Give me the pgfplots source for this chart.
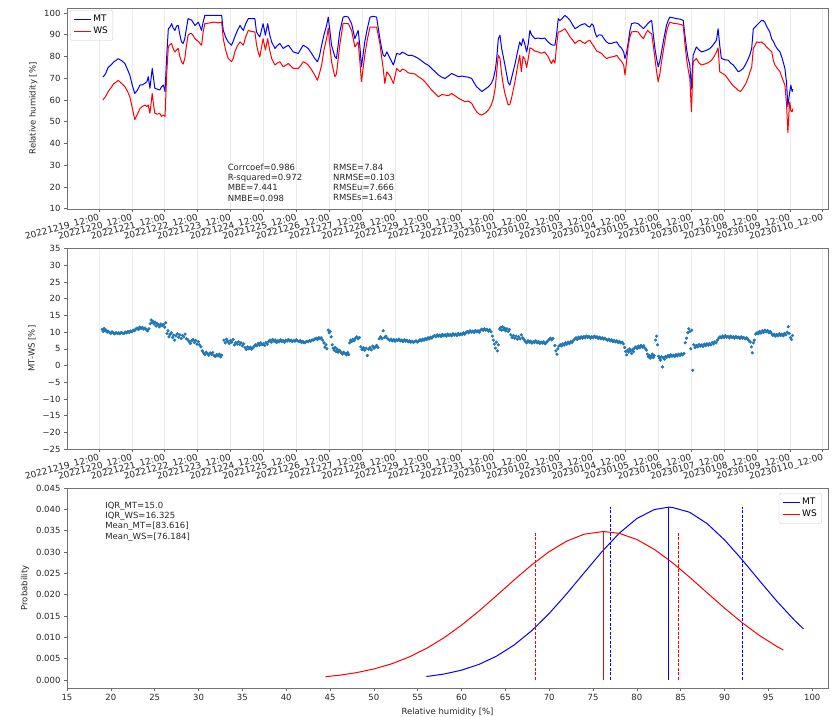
\documentclass[border=0pt]{standalone}
\usepackage{fontspec}
\setmainfont{DejaVu Sans}
\usepackage{pgfplots}
\usepackage{pgfplotstable}
\pgfplotsset{compat=1.18}
\definecolor{mplblue}{HTML}{1F77B4}

% relative humidity of the two sensors, time in days from 2022-12-19 12:00
\pgfplotstableread{
t mt ws
0.12 70.5 60.0
0.20 72.0 61.5
0.28 75.0 63.9
0.36 76.0 65.5
0.45 77.5 67.5
0.59 79.0 69.0
0.70 78.0 67.5
0.79 76.8 66.1
0.87 74.0 64.0
0.94 71.4 61.5
1.02 66.5 56.0
1.09 63.0 51.0
1.17 64.5 53.5
1.25 66.9 56.2
1.32 67.0 57.0
1.40 67.7 57.7
1.46 68.5 57.0
1.50 70.7 57.7
1.55 65.4 53.9
1.62 74.5 63.0
1.66 70.0 58.0
1.70 65.4 53.9
1.77 65.0 53.5
1.85 64.6 53.9
1.90 66.0 52.5
1.96 66.9 53.1
2.01 63.9 52.5
2.06 80.0 72.0
2.11 92.8 84.5
2.16 93.5 85.5
2.21 95.1 86.0
2.26 93.0 83.5
2.31 92.0 82.1
2.36 94.0 83.0
2.41 94.3 83.7
2.46 90.0 80.0
2.51 86.7 77.6
2.56 86.0 76.5
2.61 88.2 79.1
2.66 93.0 85.0
2.71 97.4 89.8
2.77 97.0 90.5
2.82 96.7 90.5
2.87 95.5 89.5
2.92 94.3 88.2
2.97 95.0 87.5
3.02 95.8 87.0
3.07 94.0 86.0
3.12 92.0 85.2
3.17 96.0 91.5
3.22 98.9 95.1
3.35 98.9 95.4
3.50 98.9 95.8
3.62 98.9 95.5
3.73 98.9 95.8
3.78 92.0 88.2
3.85 89.0 83.0
3.93 86.7 79.1
4.03 85.2 77.6
4.08 87.0 79.0
4.13 89.0 82.1
4.21 92.0 85.0
4.29 94.3 86.7
4.34 93.0 86.0
4.39 92.0 85.2
4.46 95.0 89.0
4.54 97.4 92.0
4.64 97.4 91.5
4.74 97.4 91.3
4.79 91.3 85.5
4.84 90.0 82.1
4.89 89.0 79.8
4.94 92.0 84.0
4.99 95.1 88.2
5.06 89.8 83.0
5.13 95.1 88.2
5.19 90.0 83.0
5.25 86.7 79.1
5.35 83.7 76.1
5.42 85.0 77.0
5.50 86.0 77.6
5.60 83.7 75.3
5.68 84.5 76.0
5.76 85.2 76.8
5.84 83.5 75.5
5.91 82.1 74.5
6.06 81.4 74.5
6.14 83.5 76.0
6.21 85.2 77.6
6.29 84.5 77.0
6.36 83.7 76.1
6.46 81.5 74.0
6.56 79.1 71.5
6.64 77.6 69.1
6.70 80.0 72.0
6.77 85.2 76.1
6.84 90.0 83.0
6.92 94.3 88.2
6.97 98.1 93.0
7.02 92.0 85.0
7.07 85.2 77.6
7.17 80.0 70.7
7.22 79.1 72.0
7.32 91.3 85.2
7.42 98.1 95.1
7.50 98.5 95.1
7.58 98.1 95.1
7.68 95.1 92.0
7.78 88.2 84.4
7.88 92.0 86.7
7.93 85.0 78.0
7.98 75.3 68.4
8.08 86.7 80.6
8.16 93.0 88.0
8.24 98.1 93.5
8.34 98.5 93.5
8.44 98.1 93.5
8.54 88.2 86.0
8.59 84.0 80.0
8.64 80.6 74.5
8.69 80.0 67.6
8.75 82.1 73.0
8.85 79.1 71.0
8.95 76.1 67.6
9.05 81.4 74.5
9.15 81.0 73.0
9.22 82.0 74.2
9.30 81.4 73.8
9.40 80.5 72.5
9.50 80.6 72.2
9.60 80.0 72.0
9.71 79.1 70.7
9.81 78.0 69.8
9.91 76.8 68.4
10.01 76.0 66.5
10.11 74.5 64.6
10.22 73.0 63.0
10.32 71.5 61.5
10.42 70.5 62.5
10.52 69.9 62.3
10.62 71.0 62.0
10.72 72.2 63.0
10.82 71.5 62.0
10.93 70.7 60.8
11.03 71.0 60.0
11.13 70.7 59.2
11.23 70.5 59.5
11.33 69.9 58.5
11.40 68.0 56.5
11.48 66.1 54.6
11.56 65.0 53.5
11.64 63.9 53.1
11.74 65.0 54.0
11.84 66.1 55.4
11.92 67.5 57.5
11.99 69.9 60.8
12.05 74.0 66.0
12.09 79.1 73.0
12.14 88.2 80.6
12.19 89.8 79.1
12.24 83.7 72.0
12.29 80.0 66.9
12.34 76.1 63.0
12.44 68.0 57.7
12.49 66.9 58.0
12.54 70.0 60.8
12.64 76.1 68.0
12.72 82.0 75.0
12.79 86.7 80.6
12.84 85.0 73.0
12.89 88.2 80.0
12.94 86.0 79.0
13.00 82.1 75.0
13.05 86.0 79.1
13.10 92.0 84.0
13.15 90.0 83.7
13.25 88.2 82.5
13.35 88.5 82.1
13.45 88.2 81.5
13.55 88.5 82.1
13.65 86.7 80.0
13.75 85.5 76.8
13.81 85.2 78.5
13.86 85.2 77.0
13.91 90.0 85.0
13.96 97.4 91.3
14.01 96.5 91.3
14.08 97.5 92.0
14.16 98.9 92.8
14.24 98.0 91.0
14.32 96.6 89.0
14.40 94.5 87.5
14.47 92.8 86.0
14.55 93.5 87.0
14.62 94.3 87.5
14.70 94.8 86.5
14.77 95.1 86.0
14.85 94.0 87.0
14.92 93.5 87.5
14.98 95.0 86.0
15.03 94.3 85.0
15.08 91.0 83.7
15.13 89.0 82.5
15.20 90.0 82.0
15.28 89.8 81.4
15.36 88.0 80.0
15.43 86.7 79.1
15.50 86.0 79.5
15.58 86.0 79.8
15.66 86.5 80.0
15.74 86.7 80.6
15.81 85.0 79.0
15.89 83.7 77.6
15.95 82.0 76.0
15.99 79.1 71.5
16.04 82.0 78.0
16.09 86.7 85.2
16.14 92.0 89.0
16.19 95.1 91.3
16.29 95.5 91.5
16.39 95.1 91.3
16.47 94.0 89.5
16.55 92.8 88.2
16.62 94.0 90.5
16.68 95.1 92.0
16.74 96.0 91.0
16.80 96.6 90.5
16.85 90.0 85.0
16.90 83.7 79.1
16.95 79.0 73.0
17.00 75.3 68.4
17.05 78.0 72.0
17.10 82.1 77.6
17.18 89.0 85.0
17.25 94.3 91.3
17.30 96.5 94.0
17.35 98.1 95.8
17.45 97.8 95.3
17.56 97.4 95.1
17.66 97.2 94.8
17.76 96.6 94.3
17.81 90.0 86.0
17.86 83.7 79.1
17.91 79.0 74.0
17.96 76.1 70.0
18.01 65.0 54.6
18.06 80.6 77.6
18.16 84.4 79.1
18.24 83.0 77.0
18.32 82.1 76.1
18.40 82.5 76.5
18.47 82.9 76.8
18.55 83.5 77.5
18.62 84.4 78.3
18.70 86.0 80.0
18.77 87.5 82.1
18.82 92.8 84.0
18.87 85.0 73.0
18.92 79.1 72.5
19.03 78.5 71.5
19.13 78.3 69.5
19.20 77.0 68.0
19.28 76.1 66.5
19.36 74.5 65.5
19.43 73.0 64.5
19.50 73.5 63.9
19.58 74.5 65.5
19.66 76.5 67.5
19.74 79.1 70.5
19.79 81.0 73.0
19.84 83.7 75.0
19.89 92.8 83.7
19.94 93.5 85.0
19.99 94.3 86.7
20.07 95.5 86.5
20.14 96.6 86.7
20.19 96.5 86.0
20.24 95.8 85.5
20.29 94.0 84.4
20.39 91.3 83.0
20.45 88.0 82.1
20.50 87.0 78.0
20.55 85.2 76.0
20.62 83.5 74.5
20.70 82.1 73.0
20.77 79.0 70.0
20.85 74.5 66.9
20.90 68.0 58.0
20.94 57.0 45.0
20.98 62.0 56.0
21.00 63.9 59.2
21.03 66.9 55.0
21.07 63.9 54.6
21.09 65.0 56.0
}\rhdata

% difference MT - WS
\pgfplotstableread{
t d
0.10 10.8
0.13 10.2
0.16 11.1
0.19 10.4
0.22 10.6
0.25 10.0
0.28 10.3
0.32 9.9
0.36 9.6
0.40 10.1
0.44 9.7
0.48 9.5
0.52 9.9
0.56 9.6
0.60 9.8
0.64 9.5
0.68 9.9
0.72 9.7
0.76 9.6
0.80 10.0
0.84 9.8
0.88 10.2
0.92 9.9
0.96 10.3
1.00 10.1
1.04 10.6
1.08 10.4
1.12 10.9
1.16 11.2
1.20 10.8
1.24 11.5
1.28 11.1
1.32 11.4
1.36 10.9
1.40 11.2
1.44 10.7
1.48 10.4
1.52 11.0
1.56 12.5
1.59 13.6
1.62 12.9
1.65 13.2
1.68 12.4
1.71 13.0
1.74 11.8
1.77 12.6
1.80 12.2
1.84 11.6
1.88 12.4
1.92 11.9
1.96 12.3
2.00 11.5
2.03 12.8
2.07 9.6
2.10 10.4
2.13 8.6
2.16 9.3
2.20 9.8
2.24 8.4
2.27 9.1
2.30 7.6
2.34 8.9
2.38 9.5
2.42 8.5
2.46 9.2
2.50 8.1
2.54 9.0
2.58 8.6
2.62 9.4
2.66 8.0
2.70 7.8
2.74 7.2
2.78 6.6
2.82 7.4
2.86 7.8
2.90 6.9
2.94 7.5
2.98 6.4
3.02 7.1
3.06 6.2
3.10 5.6
3.14 4.4
3.18 3.8
3.22 3.3
3.26 4.0
3.30 3.6
3.34 3.1
3.38 3.8
3.42 3.4
3.46 3.9
3.50 3.0
3.54 2.7
3.58 3.3
3.62 2.9
3.66 3.4
3.70 2.6
3.73 3.1
3.80 7.6
3.84 6.8
3.88 7.9
3.92 7.2
3.96 6.6
4.00 7.5
4.04 7.0
4.08 7.8
4.12 6.2
4.16 6.9
4.20 6.4
4.24 7.1
4.28 6.3
4.32 6.8
4.36 5.9
4.40 6.5
4.44 5.4
4.48 4.8
4.52 5.6
4.56 5.0
4.60 5.5
4.64 4.9
4.68 5.3
4.72 5.8
4.76 6.2
4.80 5.9
4.84 6.6
4.88 6.1
4.92 6.8
4.96 6.3
5.00 6.5
5.04 6.0
5.08 6.9
5.12 6.4
5.16 7.2
5.20 7.6
5.24 7.0
5.28 7.8
5.32 7.3
5.36 7.6
5.40 6.9
5.44 7.4
5.48 7.1
5.52 7.7
5.56 7.2
5.60 7.5
5.64 7.0
5.68 7.6
5.72 7.3
5.76 7.8
5.80 7.4
5.84 7.6
5.88 7.2
5.92 7.5
5.96 7.3
6.00 7.7
6.04 7.4
6.08 7.2
6.12 7.5
6.16 6.9
6.20 7.2
6.24 6.8
6.28 7.0
6.32 7.3
6.36 7.1
6.40 7.5
6.44 7.3
6.48 7.7
6.52 7.6
6.56 7.9
6.60 8.2
6.64 7.8
6.68 8.4
6.72 8.0
6.76 8.3
6.80 7.6
6.84 6.8
6.87 5.5
6.90 6.2
6.93 5.0
6.97 10.6
7.00 9.8
7.03 10.2
7.06 8.6
7.09 6.2
7.12 5.2
7.15 4.6
7.18 5.4
7.21 4.2
7.24 4.9
7.27 4.0
7.30 4.6
7.33 4.3
7.37 3.8
7.40 3.4
7.44 4.0
7.48 3.6
7.52 3.2
7.56 3.9
7.59 3.3
7.62 6.8
7.65 7.6
7.68 7.2
7.72 7.9
7.76 7.4
7.80 8.2
7.84 8.6
7.88 8.0
7.92 8.4
7.96 5.6
8.00 4.8
8.04 5.3
8.08 4.6
8.12 5.2
8.16 3.0
8.20 4.9
8.24 5.4
8.28 4.7
8.32 5.8
8.36 5.2
8.40 5.6
8.44 6.0
8.48 5.4
8.52 8.0
8.56 8.6
8.60 8.1
8.64 10.4
8.68 8.4
8.72 8.8
8.76 8.2
8.80 7.8
8.84 7.5
8.88 7.9
8.92 7.4
8.96 7.8
9.00 7.3
9.04 7.7
9.08 7.5
9.12 7.9
9.16 7.4
9.20 7.6
9.24 7.2
9.28 7.7
9.32 7.3
9.36 7.6
9.40 7.1
9.44 7.4
9.48 7.0
9.52 7.3
9.56 6.9
9.60 7.2
9.64 7.4
9.68 7.0
9.72 7.3
9.76 7.7
9.80 7.4
9.84 7.9
9.88 7.6
9.92 8.1
9.96 7.8
10.00 8.3
10.04 8.0
10.08 8.5
10.12 8.2
10.16 8.7
10.20 9.0
10.24 8.6
10.28 9.2
10.32 8.8
10.36 9.1
10.40 8.7
10.44 9.3
10.48 8.9
10.52 9.2
10.56 8.8
10.60 9.4
10.64 9.0
10.68 9.3
10.72 8.9
10.76 9.5
10.80 9.1
10.84 9.4
10.88 9.0
10.92 9.6
10.96 9.2
11.00 9.5
11.04 9.3
11.08 9.8
11.12 9.4
11.16 9.9
11.20 10.2
11.24 9.8
11.28 10.4
11.32 10.0
11.36 10.3
11.40 9.9
11.44 10.5
11.48 10.1
11.52 10.4
11.56 10.0
11.60 10.6
11.64 10.9
11.68 10.5
11.72 11.0
11.76 10.6
11.80 10.8
11.84 10.3
11.88 10.7
11.92 10.1
11.96 8.8
11.99 7.6
12.02 6.4
12.05 5.2
12.08 7.0
12.11 4.4
12.14 6.2
12.18 10.9
12.21 11.4
12.24 10.6
12.27 11.6
12.30 10.8
12.33 11.2
12.36 10.4
12.40 11.0
12.44 10.2
12.48 10.8
12.52 9.2
12.56 8.4
12.60 9.0
12.64 8.2
12.68 8.8
12.72 7.9
12.76 8.6
12.80 8.0
12.84 9.2
12.88 8.3
12.92 7.8
12.96 7.2
13.00 6.8
13.04 7.4
13.08 7.0
13.12 7.3
13.16 6.7
13.20 7.1
13.24 6.9
13.28 7.4
13.32 6.8
13.36 7.2
13.40 6.6
13.44 7.0
13.48 6.7
13.52 7.1
13.56 6.5
13.60 6.9
13.64 7.3
13.68 7.8
13.72 8.2
13.76 7.7
13.80 8.1
13.86 6.0
13.89 4.4
13.92 3.4
13.95 5.0
13.98 5.8
14.02 6.2
14.06 5.9
14.10 6.5
14.14 6.1
14.18 6.8
14.22 6.4
14.26 7.0
14.30 6.6
14.34 7.2
14.38 6.9
14.42 7.5
14.46 7.9
14.50 8.3
14.54 7.8
14.58 8.5
14.62 8.1
14.66 8.6
14.70 8.2
14.74 8.7
14.78 8.3
14.82 8.8
14.86 8.4
14.90 8.7
14.94 8.2
14.98 8.6
15.02 8.3
15.06 8.8
15.10 8.4
15.14 8.6
15.18 8.1
15.22 8.5
15.26 8.0
15.30 8.3
15.34 7.9
15.38 8.2
15.42 7.8
15.46 7.6
15.50 7.9
15.54 7.4
15.58 7.7
15.62 7.2
15.66 7.5
15.70 7.1
15.74 7.4
15.78 6.9
15.82 7.2
15.86 6.8
15.90 7.0
15.94 6.5
15.98 5.4
16.01 4.2
16.04 3.2
16.07 4.6
16.10 4.0
16.13 5.0
16.16 4.4
16.19 3.6
16.22 4.8
16.25 4.2
16.28 5.2
16.32 5.6
16.36 5.1
16.40 5.8
16.44 5.3
16.48 6.0
16.52 5.5
16.56 5.9
16.60 5.2
16.64 4.6
16.67 3.4
16.70 2.6
16.73 3.0
16.76 2.2
16.79 2.8
16.82 3.4
16.85 2.4
16.88 3.0
16.92 7.6
16.95 8.8
16.98 6.2
17.01 2.8
17.04 2.2
17.07 1.6
17.10 2.6
17.13 -0.4
17.16 2.3
17.19 1.9
17.22 2.7
17.26 2.5
17.30 3.0
17.34 2.6
17.38 3.2
17.42 2.8
17.46 3.1
17.50 2.7
17.54 3.3
17.58 2.9
17.62 3.4
17.66 3.0
17.70 3.5
17.74 3.2
17.78 3.6
17.82 6.8
17.86 8.2
17.90 9.8
17.93 11.0
17.96 10.2
17.99 5.0
18.02 10.6
18.05 -1.4
18.08 6.2
18.12 5.4
18.16 6.0
18.20 5.6
18.24 6.3
18.28 5.8
18.32 6.2
18.36 5.7
18.40 6.4
18.44 6.0
18.48 6.5
18.52 6.1
18.56 6.6
18.60 6.2
18.64 6.9
18.68 6.5
18.72 7.1
18.76 6.8
18.80 7.6
18.84 8.2
18.88 8.6
18.92 8.3
18.96 8.8
19.00 8.4
19.04 8.9
19.08 8.5
19.12 8.7
19.16 8.3
19.20 8.8
19.24 8.4
19.28 8.6
19.32 8.2
19.36 8.7
19.40 8.3
19.44 8.5
19.48 8.1
19.52 8.6
19.56 8.2
19.60 8.4
19.64 8.0
19.68 8.3
19.72 7.9
19.76 7.4
19.80 7.0
19.83 5.6
19.86 3.8
19.89 6.8
19.92 7.6
19.96 9.4
20.00 9.8
20.04 9.5
20.08 10.2
20.12 9.7
20.16 10.4
20.20 9.9
20.24 10.6
20.28 10.1
20.32 10.5
20.36 9.8
20.40 10.2
20.44 9.6
20.48 9.0
20.52 9.4
20.56 8.8
20.60 9.3
20.64 8.9
20.68 9.5
20.72 9.0
20.76 9.4
20.80 8.9
20.84 9.6
20.88 9.2
20.92 10.0
20.95 11.6
20.98 9.6
21.02 8.4
21.05 7.8
21.08 9.0
}\diffdata

\pgfplotsset{
  panel/.style={
    scale only axis, width=761pt,
    axis line style={black!55, line width=0.6pt},
    tick style={black!60, line width=0.6pt},
    tick align=outside, major tick length=3pt,
    xtick pos=left, ytick pos=left,
    /pgf/number format/assume math mode=true,
    tick label style={font=\fontsize{8.5}{10}\selectfont, text=black!85},
    label style={font=\fontsize{8.5}{10}\selectfont, text=black!85},
  },
  dates/.style={
    xmin=-0.97, xmax=22.16,
    xtick={0,...,22},
    xticklabels={20221219\_12:00,20221220\_12:00,20221221\_12:00,20221222\_12:00,
      20221223\_12:00,20221224\_12:00,20221225\_12:00,20221226\_12:00,
      20221227\_12:00,20221228\_12:00,20221229\_12:00,20221230\_12:00,
      20221231\_12:00,20230101\_12:00,20230102\_12:00,20230103\_12:00,
      20230104\_12:00,20230105\_12:00,20230106\_12:00,20230107\_12:00,
      20230108\_12:00,20230109\_12:00,20230110\_12:00},
    xticklabel style={rotate=15, anchor=north east, inner sep=1pt,
      font=\fontsize{9}{10}\selectfont},
    xmajorgrids, major x grid style={black!8, line width=0.5pt},
  },
}
\tikzset{txt/.style={font=\fontsize{8.5}{10.2}\selectfont, text=black!85, align=left, inner sep=0pt}}

\begin{document}
\begin{tikzpicture}
\useasboundingbox (0pt,0pt) rectangle (833pt,-716pt);

% time series of both sensors
\begin{axis}[panel, dates, at={(67pt,-8pt)}, anchor=north west, height=201pt,
  ymin=9.9, ymax=102.3, ytick={10,20,...,100},
  ylabel={Relative humidity [\%]},
  legend style={at={(rel axis cs:0.004,0.99)}, anchor=north west,
    draw=black!20, rounded corners=2pt, fill=white,
    font=\fontsize{9}{11}\selectfont, inner sep=3pt},
  legend cell align=left]
\addplot[blue, line width=1pt, line join=round] table[x=t, y=mt] {\rhdata};
\addlegendentry{MT}
\addplot[red, line width=1pt, line join=round] table[x=t, y=ws] {\rhdata};
\addlegendentry{WS}
\node[txt, anchor=north west] at (rel axis cs:0.211,0.225)
  {Corrcoef=0.986\\R-squared=0.972\\MBE=7.441\\NMBE=0.098};
\node[txt, anchor=north west] at (rel axis cs:0.3495,0.225)
  {RMSE=7.84\\NRMSE=0.103\\RMSEu=7.666\\RMSEs=1.643};
\end{axis}

% difference between the sensors
\begin{axis}[panel, dates, at={(67pt,-248pt)}, anchor=north west, height=201pt,
  ymin=-25, ymax=35.2, ytick={-25,-20,...,35},
  yticklabels={−25,−20,−15,−10,−5,0,5,10,15,20,25,30,35},
  ylabel={MT-WS [\%]}]
\addplot[only marks, mark=*, mark size=1.4pt, color=mplblue, mark options={draw=none}]
  table[x=t, y=d] {\diffdata};
\end{axis}

% fitted distributions
\begin{axis}[panel, at={(67pt,-488pt)}, anchor=north west, height=200pt,
  xmin=15, xmax=101.8, xtick={15,20,...,100},
  ymin=-0.0019, ymax=0.045, ytick={0,0.005,...,0.045},
  scaled y ticks=false,
  yticklabel style={/pgf/number format/.cd, fixed, fixed zerofill, precision=3},
  ylabel={Probability}, xlabel={Relative humidity [\%]},
  legend style={at={(rel axis cs:0.992,0.975)}, anchor=north east,
    draw=black!20, rounded corners=2pt, fill=white,
    font=\fontsize{9}{11}\selectfont, inner sep=3pt},
  legend cell align=left]
\addplot[blue, line width=1pt] coordinates {
(56,0.000795) (58,0.001376) (60,0.002287) (62,0.003645) (64,0.005576)
(66,0.008185) (68,0.011527) (70,0.015577) (72,0.020206) (74,0.025146)
(76,0.030035) (78,0.034421) (80,0.037859) (82,0.039959) (83.616,0.040500)
(84,0.040469) (86,0.039331) (88,0.036681) (90,0.032829) (92,0.028192)
(94,0.023235) (96,0.018375) (98,0.013944) (99,0.011964)};
\addlegendentry{MT}
\addplot[red, line width=1pt] coordinates {
(44.5,0.000762) (46,0.001084) (48,0.001692) (50,0.002559) (52,0.003755)
(54,0.005345) (56,0.007378) (58,0.009883) (60,0.012838) (62,0.016179)
(64,0.019773) (66,0.023448) (68,0.026967) (70,0.030085) (72,0.032555)
(74,0.034174) (76.184,0.034800) (78,0.034366) (80,0.032924) (82,0.030596)
(84,0.027579) (86,0.024116) (88,0.020452) (90,0.016826) (92,0.013426)
(94,0.010395) (96,0.007806) (96.7,0.007009)};
\addlegendentry{WS}
% means (solid) and quartiles (dashed)
\addplot[blue, line width=1pt, forget plot] coordinates {(83.616,0) (83.616,0.0405)};
\addplot[red, line width=1pt, forget plot] coordinates {(76.184,0) (76.184,0.0348)};
\addplot[blue, line width=1pt, dash pattern=on 3pt off 1.5pt, forget plot] coordinates {(77.0,0) (77.0,0.0405)};
\addplot[blue, line width=1pt, dash pattern=on 3pt off 1.5pt, forget plot] coordinates {(92.0,0) (92.0,0.0405)};
\addplot[red, line width=1pt, dash pattern=on 3pt off 1.5pt, forget plot] coordinates {(68.48,0) (68.48,0.0348)};
\addplot[red, line width=1pt, dash pattern=on 3pt off 1.5pt, forget plot] coordinates {(84.80,0) (84.80,0.0348)};
\node[txt, anchor=north west] at (rel axis cs:0.05,0.93)
  {IQR\_MT=15.0\\IQR\_WS=16.325\\Mean\_MT=[83.616]\\Mean\_WS=[76.184]};
\end{axis}
\end{tikzpicture}
\end{document}
